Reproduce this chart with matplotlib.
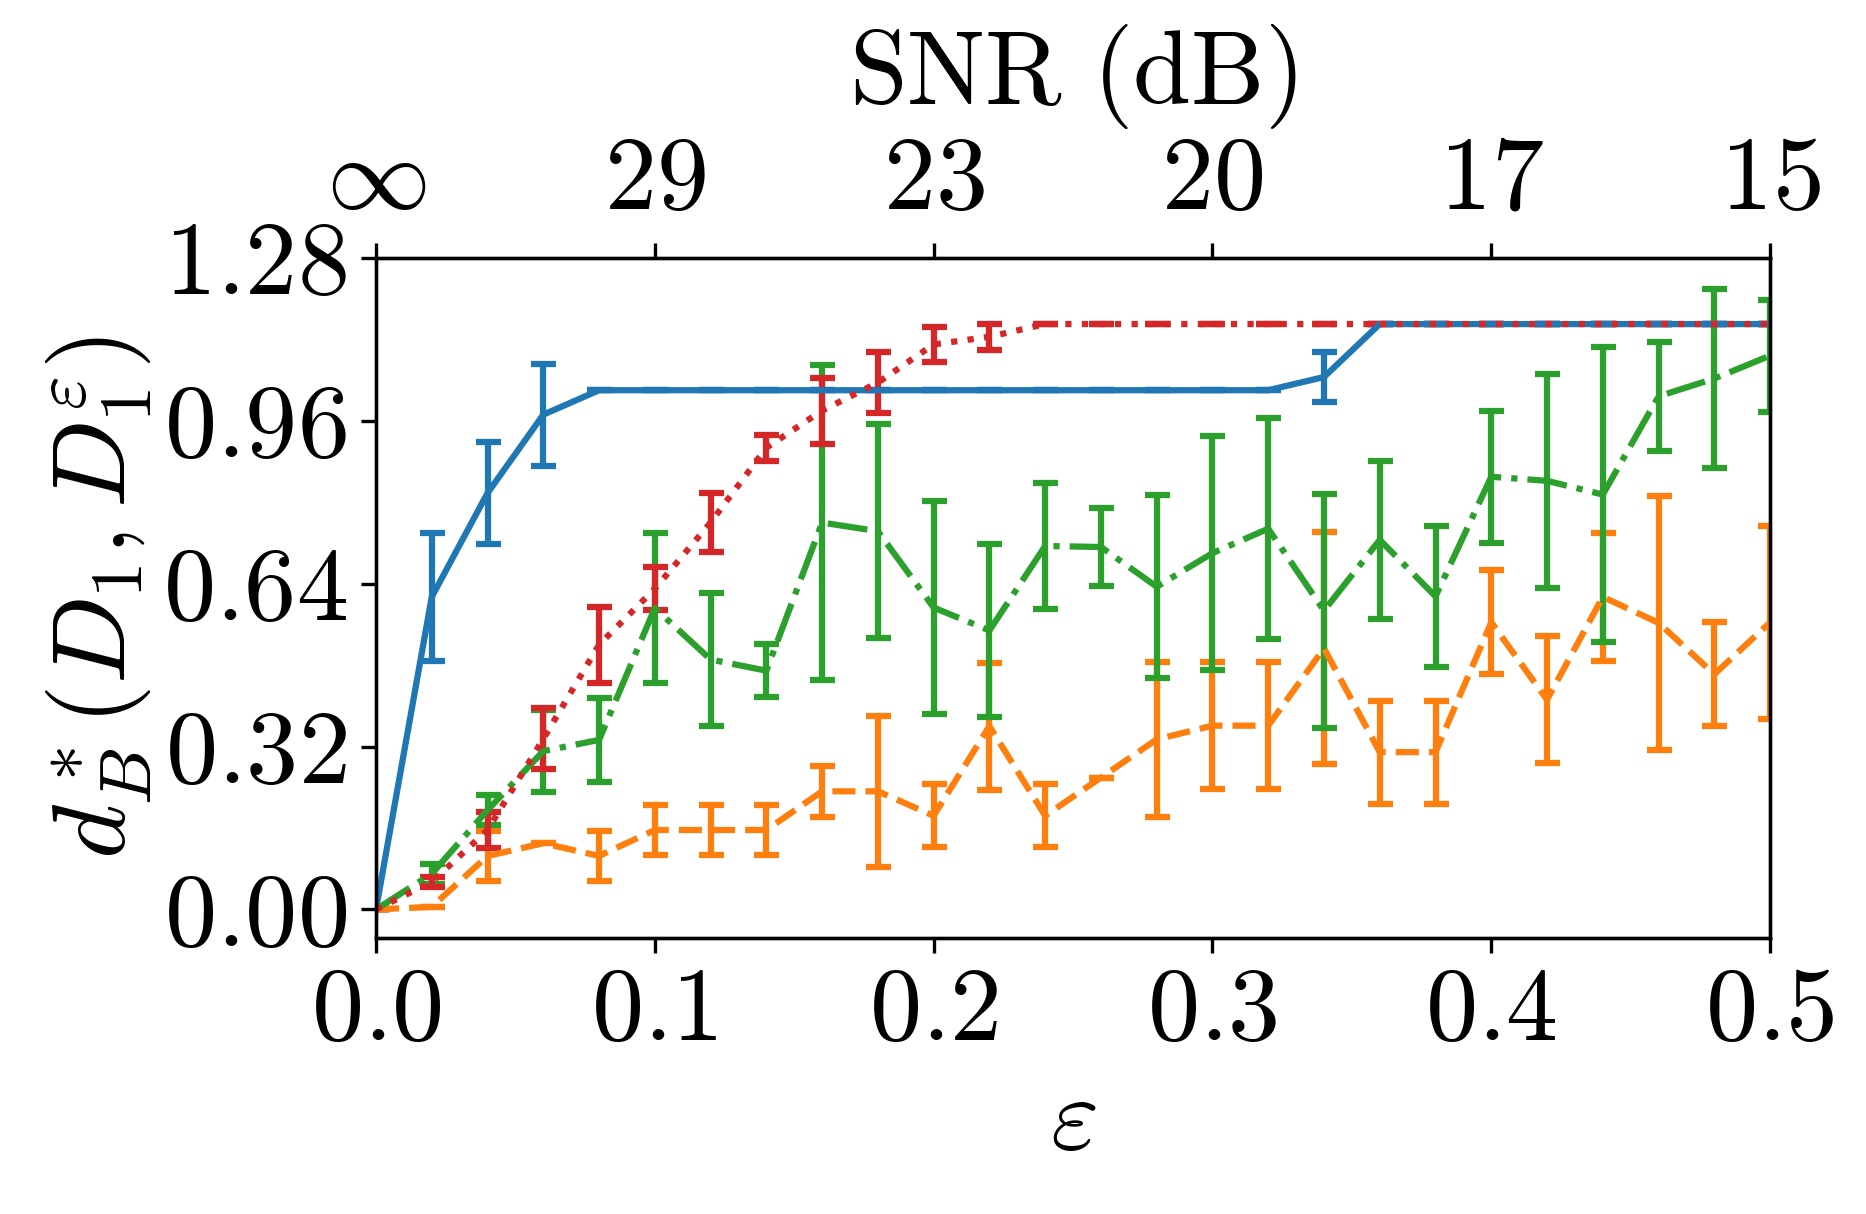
import numpy as np
import matplotlib
matplotlib.use("Agg")
import matplotlib.pyplot as plt

plt.rcParams["mathtext.fontset"] = "cm"
plt.rcParams["font.family"] = "serif"
plt.rcParams["font.serif"] = ["cmr10", "DejaVu Serif"]
plt.rcParams["axes.formatter.use_mathtext"] = True

# noise level eps
eps = [0.00, 0.02, 0.04, 0.06, 0.08, 0.10, 0.12, 0.14, 0.16, 0.18, 0.20, 0.22, 0.24,
       0.26, 0.28, 0.30, 0.32, 0.34, 0.36, 0.38, 0.40, 0.42, 0.44, 0.46, 0.48, 0.50]

# blue, solid
blue_mean = [0.0, 0.614, 0.818, 0.972, 1.02, 1.02, 1.02, 1.02, 1.02, 1.02, 1.02, 1.02, 1.02,
             1.02, 1.02, 1.02, 1.02, 1.046, 1.15, 1.15, 1.15, 1.15, 1.15, 1.15, 1.15, 1.15]
blue_err = [0.0, 0.125, 0.10, 0.10, 0.0, 0.0, 0.0, 0.0, 0.0, 0.0, 0.0, 0.0, 0.0,
            0.0, 0.0, 0.0, 0.0, 0.05, 0.0, 0.0, 0.0, 0.0, 0.0, 0.0, 0.0, 0.0]

# orange, dashed
orange_mean = [0.0, 0.005, 0.105, 0.13, 0.105, 0.156, 0.156, 0.156, 0.232, 0.232, 0.184, 0.36, 0.184,
               0.259, 0.334, 0.361, 0.361, 0.513, 0.309, 0.309, 0.564, 0.412, 0.614, 0.563, 0.462, 0.564]
orange_err = [0.0, 0.0, 0.05, 0.0, 0.05, 0.05, 0.05, 0.05, 0.05, 0.148, 0.062, 0.125, 0.062,
              0.0, 0.152, 0.125, 0.125, 0.228, 0.101, 0.101, 0.102, 0.125, 0.125, 0.25, 0.102, 0.19]

# green, dash-dot
green_mean = [0.0, 0.07, 0.195, 0.311, 0.333, 0.592, 0.491, 0.469, 0.76, 0.743, 0.593, 0.548, 0.714,
              0.712, 0.634, 0.70, 0.748, 0.587, 0.726, 0.615, 0.85, 0.842, 0.815, 1.008, 1.043, 1.088]
green_err = [0.0, 0.02, 0.03, 0.08, 0.083, 0.148, 0.13, 0.052, 0.31, 0.21, 0.21, 0.17, 0.123,
             0.077, 0.18, 0.23, 0.217, 0.23, 0.155, 0.138, 0.13, 0.21, 0.29, 0.107, 0.175, 0.11]

# red, dotted
red_mean = [0.0, 0.054, 0.156, 0.335, 0.52, 0.63, 0.76, 0.907, 0.98, 1.035, 1.11, 1.125, 1.15,
            1.15, 1.15, 1.15, 1.15, 1.15, 1.15, 1.15, 1.15, 1.15, 1.15, 1.15, 1.15, 1.15]
red_err = [0.0, 0.01, 0.035, 0.06, 0.075, 0.042, 0.058, 0.026, 0.065, 0.06, 0.035, 0.026, 0.0,
           0.0, 0.0, 0.0, 0.0, 0.0, 0.0, 0.0, 0.0, 0.0, 0.0, 0.0, 0.0, 0.0]

x_ticks = [0.0, 0.1, 0.2, 0.3, 0.4, 0.5]
x_ticklabels = ["0.0", "0.1", "0.2", "0.3", "0.4", "0.5"]
y_ticks = [0.0, 0.32, 0.64, 0.96, 1.28]
y_ticklabels = ["0.00", "0.32", "0.64", "0.96", "1.28"]
snr_ticklabels = [r"\infty", "29", "23", "20", "17", "15"]

FS = 25

fig = plt.figure(figsize=(6.22, 4.047), dpi=300)
ax = fig.add_axes([0.2015, 0.2274, 0.7471, 0.5601])

series = [
    (blue_mean, blue_err, "tab:blue", "-"),
    (orange_mean, orange_err, "tab:orange", "--"),
    (green_mean, green_err, "tab:green", "-."),
    (red_mean, red_err, "tab:red", ":"),
]
for mean, err, color, ls in series:
    ax.errorbar(eps, mean, yerr=err, color=color, linestyle=ls, linewidth=1.5,
                elinewidth=1.5, capsize=3, capthick=1.5)

ax.set_xlim(0, 0.5)
ax.set_ylim(-0.056, 1.28)
ax.set_xticks(x_ticks)
ax.set_xticklabels(["$" + t + "$" for t in x_ticklabels], fontsize=FS)
ax.set_yticks(y_ticks)
ax.set_yticklabels(["$" + t + "$" for t in y_ticklabels], fontsize=FS)
ax.set_xlabel(r"$\varepsilon$", fontsize=FS)
ax.set_ylabel(r"$d_B^*(D_1, D_1^\varepsilon)$", fontsize=FS, labelpad=2)

# top axis: same positions, labelled by SNR
ax2 = ax.twiny()
ax2.set_xlim(ax.get_xlim())
ax2.set_xticks(x_ticks)
ax2.set_xticklabels(["$" + t + "$" for t in snr_ticklabels], fontsize=FS)
ax2.set_xlabel(r"$\mathrm{SNR\ (dB)}$", fontsize=FS, labelpad=8)

fig.savefig("out.png", dpi=300)
